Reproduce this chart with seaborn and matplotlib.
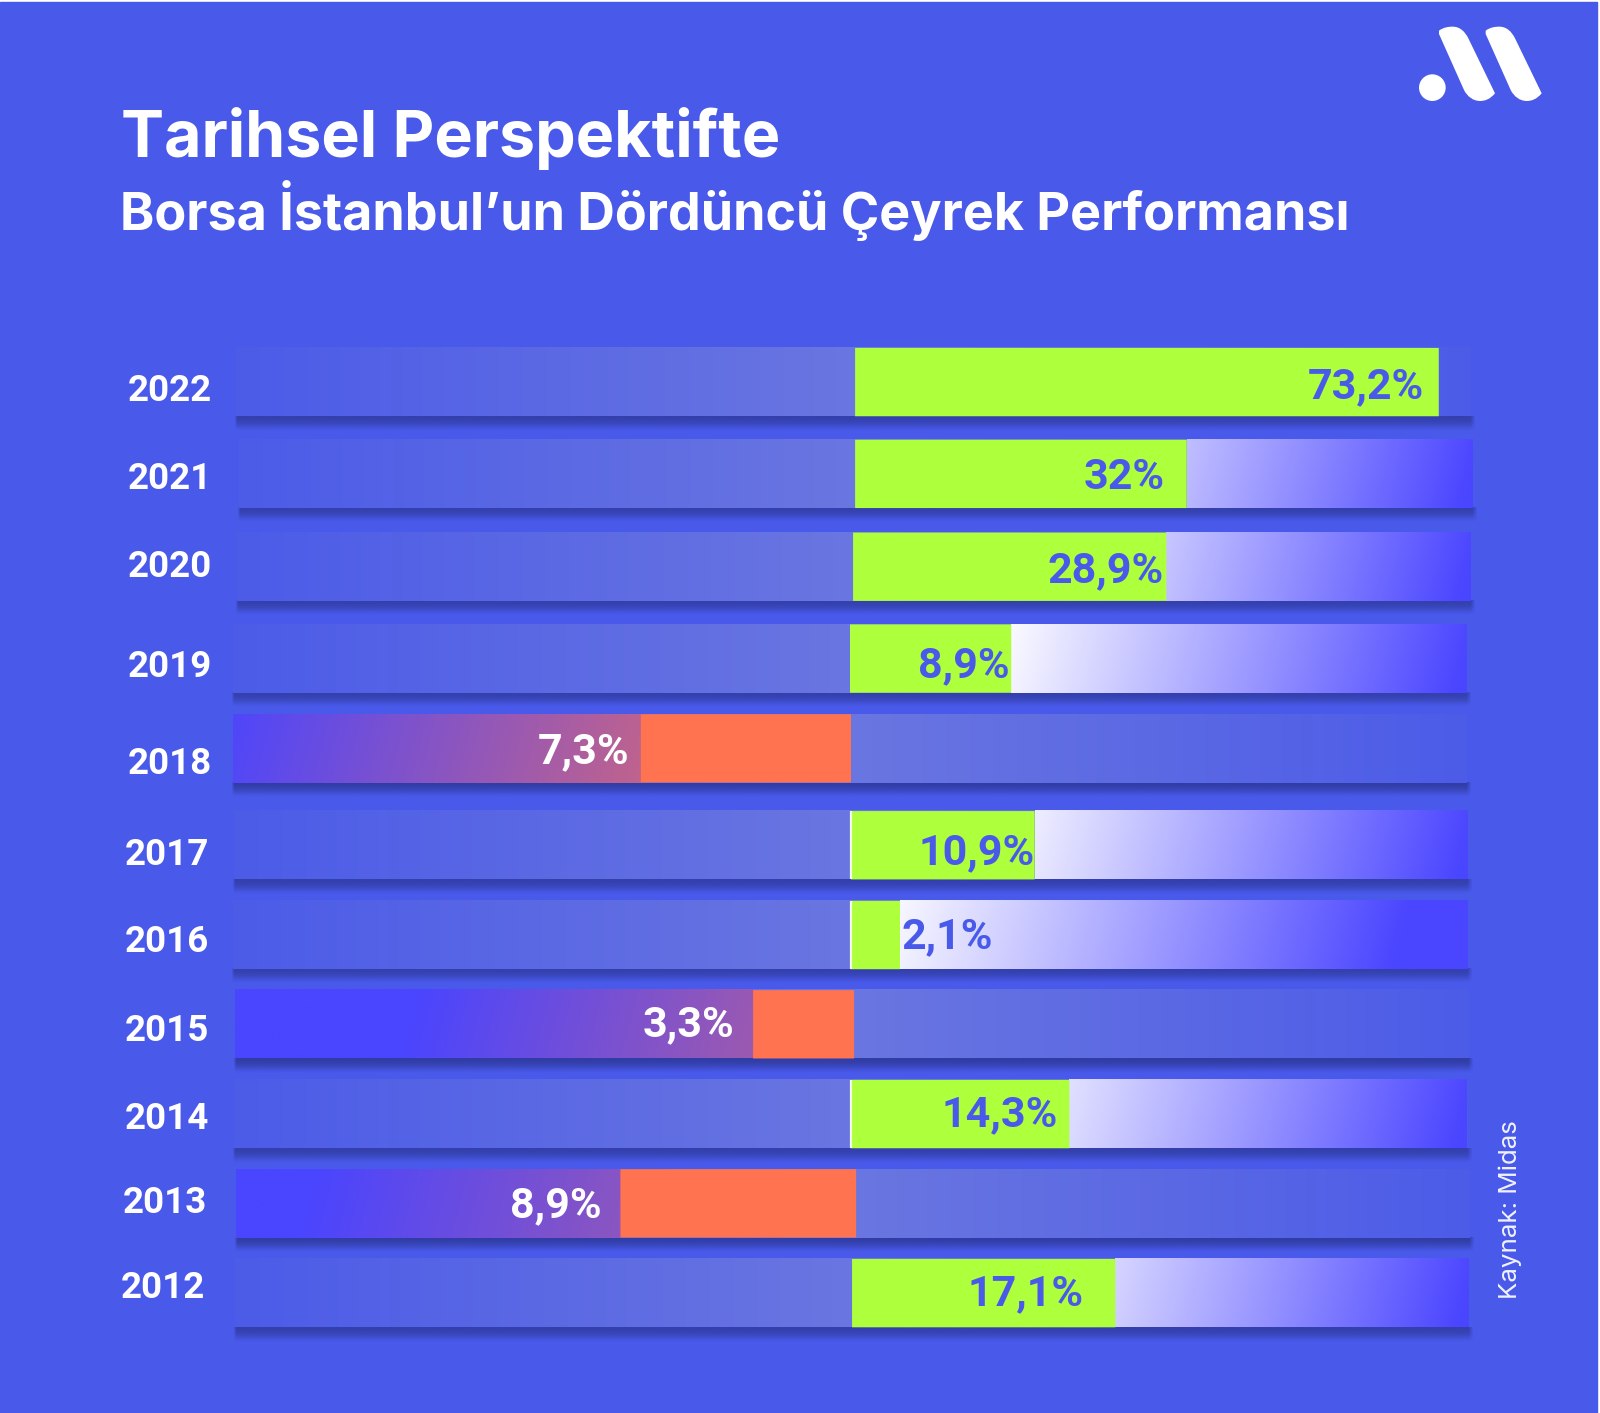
import numpy as np
import pandas as pd
import matplotlib
matplotlib.use("Agg")
import matplotlib.pyplot as plt
from matplotlib.path import Path
from matplotlib.patches import PathPatch, Circle, Rectangle
from matplotlib.colors import to_rgb
import seaborn as sns

# ---- data ----
years = [2022, 2021, 2020, 2019, 2018, 2017, 2016, 2015, 2014, 2013, 2012]
returns_pct = [73.2, 32, 28.9, 8.9, -7.3, 10.9, 2.1, -3.3, 14.3, -8.9, 17.1]
# the infographic's bars are not to scale: lengths as drawn
drawn_length = [572, 325, 307, 158, -206, 180, 48, -99, 214, -231, 258]

# ---- layout (reference units, 1568 wide) ----
row_y = [374.5, 464.5, 555.5, 645.5, 733.5, 828.5, 916.5, 1004, 1092, 1179.5, 1267.5]
row_zero = [838, 838, 836, 833, 834, 834, 834, 837, 834, 839, 835]
track_l = [231, 234, 232, 228, 228, 229, 228, 230, 229, 231, 230]
track_r = [1441, 1443, 1441, 1437, 1437, 1438, 1438, 1439, 1438, 1440, 1439]
year_x = [125, 125, 125, 125, 125, 122, 122, 122, 122, 120, 118]
year_y = [379.5, 465.5, 551.5, 649.5, 744.5, 834.5, 919.5, 1006.5, 1092.5, 1175.5, 1258.5]
label_x = [1396, 1141, 1140, 989, 617, 1014, 973, 720, 1037, 590, 1062]
label_y = [375, 464, 555, 648, 732, 831, 914, 1000, 1088, 1177, 1264]
grad_from = [None, 1000, 1000, 970, 200, 960, 850, 400, 960, 300, 980]
grad_to = [None, 1443, 1441, 1437, 870, 1438, 1375, 1168, 1438, 1180, 1439]
white_edge = [2017, 2016, 2014]

BG = "#4959E9"
GREEN = "#AEFF3C"
ORANGE = "#FF7350"
BLUE = "#4A45FF"
MUTED_EDGE = "#4C5CE8"
MUTED_MID = "#6A76E0"
BAR_H = 67
FONT = ["Inter", "DejaVu Sans"]
NARROW = ["Roboto", "DejaVu Sans"]
SCALE = 1600 / 1568

sns.set_theme(style="white")
plt.rcParams["font.family"] = FONT

fig = plt.figure(figsize=(16, 14.13), dpi=100, facecolor="white")
ax = fig.add_axes([0, 0, 1, 1])
ax.set_facecolor("white")
ax.add_patch(Rectangle((0, 1.5), 1565.5, 1385, color=BG, zorder=0))


def ramp(x0, x1, y0, y1, c0, c1, t0, t1, skew=0.0, z=2):
    xs = np.arange(x0, x1 + 1)
    ys = np.linspace(-0.5, 0.5, 40)
    X, Y = np.meshgrid(xs, ys)
    t = np.clip((X + skew * Y - t0) / (t1 - t0), 0, 1)[..., None]
    img = np.array(to_rgb(c0)) * (1 - t) + np.array(to_rgb(c1)) * t
    ax.imshow(img, extent=(x0, x1, y1, y0), aspect="auto", zorder=z, interpolation="bilinear")


def shadow(x0, x1, y1, strong):
    h = 14
    ys = np.linspace(0, 1, h * 2)
    xs = np.arange(x0 - 2, x1 + 4)
    ay = (0.95 if strong else 0.85) * np.clip(1 - ys ** 2.2, 0, 1) ** 1.6
    ax_fade = np.clip((x1 + 4 - xs) / 5, 0, 1) * np.clip((xs - x0 + 2) / 3, 0, 1)
    a = np.outer(ay, ax_fade)
    img = np.zeros(a.shape + (4,))
    img[..., :3] = to_rgb("#303CA2")
    img[..., 3] = a
    ax.imshow(img, extent=(x0 - 2, x1 + 4, y1 + h, y1), aspect="auto", zorder=1, interpolation="bilinear")


for i, yr in enumerate(years):
    yc, z0, l, r = row_y[i], row_zero[i], track_l[i], track_r[i]
    y0, y1 = yc - BAR_H / 2, yc + BAR_H / 2
    shadow(l, r, y1, returns_pct[i] < 0)
    ramp(l, z0, y0, y1, MUTED_EDGE, MUTED_MID, l, z0, 0, 2)
    ramp(z0, r, y0, y1, MUTED_MID, MUTED_EDGE, z0, r, 0, 2)
    if grad_from[i] is None:
        continue
    if returns_pct[i] > 0:
        start = z0 + drawn_length[i]
        ramp(start, r, y0, y1, "#FFFFFF", "#4A45FF", grad_from[i], grad_to[i], 18, 3)
    else:
        end = z0 + drawn_length[i]
        ramp(l, end, y0, y1, BLUE, ORANGE, grad_from[i], grad_to[i], 18, 3)

df = pd.DataFrame({"year": years, "y": row_y, "length": drawn_length, "ret": returns_pct})
df["dir"] = np.where(df["ret"] > 0, "up", "down")
sns.barplot(data=df, x="length", y="y", hue="dir", palette={"up": GREEN, "down": ORANGE},
            orient="h", native_scale=True, dodge=False, width=BAR_H / 87.5, saturation=1,
            legend=False, ax=ax, zorder=4, linewidth=0)

# move each bar onto its own row's zero line
for p in ax.patches:
    if not hasattr(p, "get_height") or p.get_height() > 100:
        continue
    yc = p.get_y() + p.get_height() / 2
    i = int(np.argmin(np.abs(np.array(row_y) - yc)))
    if abs(row_y[i] - yc) < 1:
        p.set_x(p.get_x() + row_zero[i])
        p.set_snap(False)

for i, yr in enumerate(years):
    if yr in white_edge:
        ax.plot([row_zero[i]] * 2, [row_y[i] - BAR_H / 2, row_y[i] + BAR_H / 2],
                color="#F4F8E8", lw=1.6, zorder=5, solid_capstyle="butt")
    ax.text(year_x[i], year_y[i], str(yr), color="white", fontsize=26.5, fontweight="bold",
            family=NARROW, va="center_baseline", ha="left", zorder=6)
    txt = f"{abs(returns_pct[i]):g}".replace(".", ",") + "%"
    ax.text(label_x[i], label_y[i], txt, color="white" if returns_pct[i] < 0 else BG,
            fontsize=31, fontweight="bold", family=NARROW, va="center_baseline", ha="right", zorder=6)

ax.text(119, 129, "Tarihsel Perspektifte", color="white", fontsize=46.5, fontweight="bold",
        va="center_baseline", ha="left")
ax.text(118, 200.5, "Borsa İstanbul’un Dördüncü Çeyrek Performansı", color="white", fontsize=37.5,
        fontweight="bold", va="center_baseline", ha="left")
ax.text(1480, 1186, "Kaynak: Midas", color="#F0F2FF", fontsize=18.7, rotation=90,
        va="center", ha="center")


# logo
def lp(px, py):
    return ((1380 + px / 3) / SCALE, (py / 3) / SCALE)


for dx in (0, 140):
    pts = [(177, 92), (190, 82), (205, 80), (218, 80), (240, 80), (255, 95), (265, 115),
           (345, 280), (330, 298), (315, 303), (300, 303), (280, 303), (262, 290), (252, 270),
           (177, 102), (177, 92)]
    codes = [Path.MOVETO, Path.CURVE4, Path.CURVE4, Path.CURVE4, Path.CURVE4, Path.CURVE4, Path.CURVE4,
             Path.LINETO, Path.CURVE4, Path.CURVE4, Path.CURVE4, Path.CURVE4, Path.CURVE4, Path.CURVE4,
             Path.LINETO, Path.CLOSEPOLY]
    ax.add_patch(PathPatch(Path([lp(x + dx, y) for x, y in pts], codes), fc="white", ec="none", zorder=6))
cx, cy = lp(157, 263)
ax.add_patch(Circle((cx, cy), 40 / 3 / SCALE, fc="white", ec="none", zorder=6))

ax.set_xlim(0, 1568)
ax.set_ylim(1385, 0)
ax.set_xlabel("")
ax.set_ylabel("")
ax.set_xticks([])
ax.set_yticks([])
for s in ax.spines.values():
    s.set_visible(False)
fig.savefig("out.png", dpi=100, facecolor="white")
